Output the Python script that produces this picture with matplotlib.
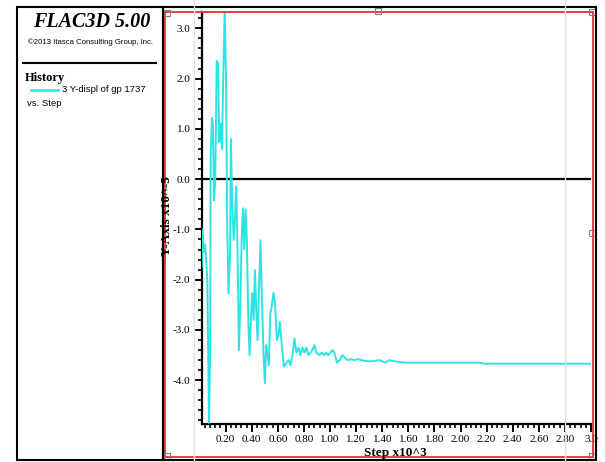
import matplotlib
matplotlib.use("Agg")
import matplotlib.pyplot as plt
from matplotlib.patches import Rectangle
from matplotlib.lines import Line2D
from matplotlib.ticker import MultipleLocator, FormatStrFormatter

# history data: step (x10^3) vs Y-displacement (x10^-5)
step = [0.016, 0.023, 0.034, 0.041, 0.049, 0.059, 0.072, 0.080, 0.085, 0.095,
        0.102, 0.110, 0.120, 0.131, 0.141, 0.151, 0.161, 0.171, 0.182, 0.192,
        0.202, 0.212, 0.222, 0.233, 0.240, 0.250, 0.261, 0.271, 0.281, 0.291,
        0.301, 0.312, 0.322, 0.332, 0.342, 0.352, 0.362, 0.373, 0.383, 0.393,
        0.403, 0.414, 0.424, 0.434, 0.444, 0.454, 0.467, 0.477, 0.490, 0.500,
        0.510, 0.521, 0.531, 0.541, 0.554, 0.566, 0.579, 0.592, 0.605, 0.615,
        0.630, 0.645, 0.666, 0.681, 0.696, 0.712, 0.727, 0.742, 0.758, 0.773,
        0.788, 0.804, 0.819, 0.834, 0.850, 0.865, 0.880, 0.895, 0.916, 0.936,
        0.956, 0.972, 0.987, 1.003, 1.018, 1.033, 1.053, 1.074, 1.094, 1.114,
        1.135, 1.160, 1.186, 1.216, 1.242, 1.278, 1.329, 1.380, 1.420, 1.456,
        1.507, 1.584, 1.736, 1.992, 2.145, 2.183, 2.501, 3.000]
ydisp = [-1.75, -1.00, -1.45, -1.30, -1.55, -2.00, -4.85, -3.50, 0.45, 1.22,
         1.10, -0.42, 0.00, 2.35, 2.30, 0.74, 1.10, 0.60, 2.10, 3.33,
         2.10, -1.00, -2.27, -1.50, 0.80, -0.50, -1.21, -0.80, -0.15, -1.50,
         -3.40, -2.50, -1.20, -0.58, -1.40, -0.60, -1.20, -2.80, -3.50, -2.80,
         -2.27, -2.80, -1.81, -2.60, -3.20, -2.30, -1.21, -2.30, -3.50, -4.06,
         -3.30, -3.50, -3.70, -2.70, -2.50, -2.26, -2.50, -3.20, -3.10, -2.84,
         -3.30, -3.73, -3.65, -3.60, -3.70, -3.50, -3.17, -3.45, -3.35, -3.50,
         -3.35, -3.45, -3.35, -3.50, -3.45, -3.40, -3.30, -3.45, -3.50, -3.45,
         -3.50, -3.45, -3.50, -3.45, -3.40, -3.45, -3.65, -3.60, -3.50, -3.55,
         -3.60, -3.58, -3.60, -3.58, -3.60, -3.62, -3.62, -3.60, -3.65, -3.60,
         -3.63, -3.65, -3.65, -3.65, -3.65, -3.67, -3.67, -3.67]

W, H = 605, 462
CYAN = "#2de3e3"
SERIF = "Liberation Serif"
SANS = "Liberation Sans"


def fx(px):
    return px / W


def fy(py):
    return 1 - py / H


fig = plt.figure(figsize=(W / 100, H / 100), dpi=100)
fig.patch.set_facecolor("white")

# faint vertical guide lines
for gx in (194, 565):
    fig.add_artist(Line2D([fx(gx), fx(gx)], [fy(0), fy(H)], color="#e4e4e4", lw=1))

ax = fig.add_axes([fx(201.7), fy(424), fx(591) - fx(201.7), fy(11.7) - fy(424)])
ax.set_facecolor("none")
ax.plot(step, ydisp, color=CYAN, lw=1.4, zorder=3)
ax.axhline(0, color="black", lw=1.6, zorder=2)

ax.set_xlim(0.016, 3.0)
ax.set_ylim(-4.87, 3.33)
ax.xaxis.set_minor_locator(MultipleLocator(0.04))
ax.yaxis.set_major_locator(MultipleLocator(1.0))
ax.yaxis.set_minor_locator(MultipleLocator(0.2))
ax.yaxis.set_major_formatter(FormatStrFormatter("%.1f"))
ax.set_xticks([0.2 * i for i in range(1, 16)])
ax.set_xticklabels(["%.2f" % (0.2 * i) for i in range(1, 15)] + ["3.0"])

for s in ("top", "right"):
    ax.spines[s].set_visible(False)
for s in ("left", "bottom"):
    ax.spines[s].set_linewidth(1.6)
ax.tick_params(which="major", length=6, width=1.4, labelsize=8, pad=2)
ax.tick_params(which="minor", length=3, width=1.2)
for lab in ax.get_xticklabels() + ax.get_yticklabels():
    lab.set_family(SERIF)

fig.text(fx(395), fy(453), "Step x10^3", family=SERIF, weight="bold", fontsize=9.5,
         ha="center", va="center")
fig.text(fx(167), fy(216), "Y-Axis x10^-5", family=SERIF, weight="bold", fontsize=9.5,
         ha="center", va="center", rotation=90)

# red selection rectangle with handles
fig.add_artist(Rectangle((fx(165), fy(457)), fx(592.5) - fx(165), fy(11.7) - fy(457),
                         fill=False, ec="#e03030", lw=1.3))
for hx, hy in [(167, 13), (378, 11), (592, 12), (592, 233), (167, 456), (592, 456)]:
    fig.add_artist(Rectangle((fx(hx - 3), fy(hy + 3)), fx(6), 6 / H,
                             fill=False, ec="#808080", lw=0.8))

# outer frame and left legend panel
fig.add_artist(Rectangle((fx(163), fy(460)), fx(596) - fx(163), fy(7) - fy(460),
                         fill=False, ec="black", lw=1.5))
fig.add_artist(Rectangle((fx(17), fy(460)), fx(163) - fx(17), fy(7) - fy(460),
                         fill=False, ec="black", lw=1.5))

fig.text(fx(92), fy(22), "FLAC3D 5.00", family=SERIF, weight="bold", style="italic",
         fontsize=14.5, ha="center", va="center")
fig.text(fx(90), fy(42), "\u00a92013 Itasca Consulting Group, Inc.", family=SANS,
         fontsize=5.6, ha="center", va="center")
fig.add_artist(Line2D([fx(23), fx(156)], [fy(63), fy(63)], color="black", lw=1.5))
fig.text(fx(25), fy(78), "History", family=SERIF, weight="bold", fontsize=9,
         ha="left", va="center")
fig.add_artist(Line2D([fx(31), fx(58)], [fy(90), fy(90)], color=CYAN, lw=1.8))
fig.text(fx(62), fy(89), "3 Y-displ of gp 1737", family=SANS, fontsize=6.8,
         ha="left", va="center")
fig.text(fx(27), fy(104), "vs. Step", family=SANS, fontsize=6.8,
         ha="left", va="center")

fig.savefig("out.png", dpi=100)
